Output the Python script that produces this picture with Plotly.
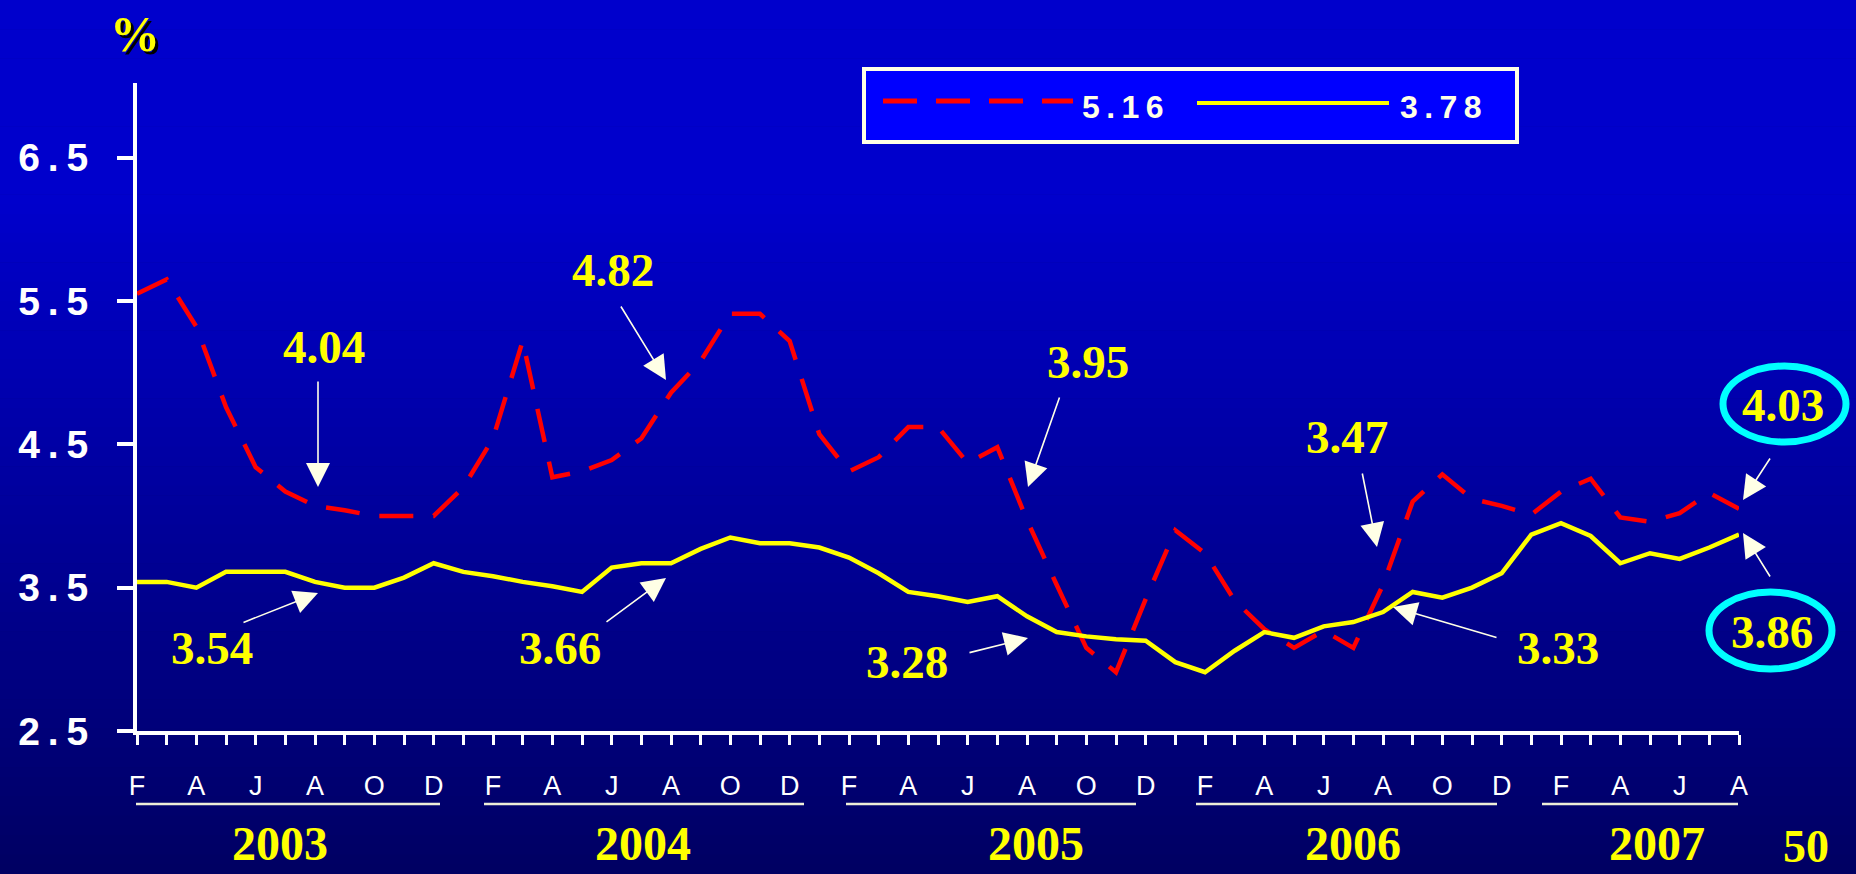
import pandas as pd
import plotly.graph_objects as go

# ---------------- data ----------------
months = pd.date_range("2003-02-01", "2007-08-01", freq="MS").strftime("%b %Y").tolist()

series_red_name = "5.16"
series_red = [5.55, 5.65, 5.32, 4.76, 4.34, 4.17, 4.07, 4.04, 4.00, 4.00,
              4.00, 4.20, 4.54, 5.22, 4.27, 4.31, 4.39, 4.54, 4.86, 5.08,
              5.41, 5.41, 5.22, 4.57, 4.31, 4.41, 4.62, 4.62, 4.37, 4.48,
              3.97, 3.52, 3.08, 2.91, 3.42, 3.90, 3.74, 3.41, 3.21, 3.08,
              3.20, 3.08, 3.52, 4.10, 4.29, 4.12, 4.07, 4.01, 4.17, 4.26,
              3.99, 3.96, 4.02, 4.16, 4.05]

series_yellow_name = "3.78"
series_yellow = [3.54, 3.54, 3.50, 3.61, 3.61, 3.61, 3.54, 3.50, 3.50, 3.57,
                 3.67, 3.61, 3.58, 3.54, 3.51, 3.47, 3.64, 3.67, 3.67, 3.77,
                 3.85, 3.81, 3.81, 3.78, 3.71, 3.60, 3.47, 3.44, 3.40, 3.44,
                 3.30, 3.19, 3.16, 3.14, 3.13, 2.98, 2.91, 3.06, 3.19, 3.15,
                 3.23, 3.26, 3.33, 3.47, 3.43, 3.50, 3.60, 3.87, 3.95, 3.86,
                 3.67, 3.74, 3.70, 3.78, 3.87]

month_tick_labels = [m[0] if i % 2 == 0 else "" for i, m in enumerate(months)]
y_tick_values = [2.5, 3.5, 4.5, 5.5, 6.5]
y_tick_labels = ["2\u2009.\u20095", "3\u2009.\u20095", "4\u2009.\u20095", "5\u2009.\u20095", "6\u2009.\u20095"]
years = ["2003", "2004", "2005", "2006", "2007"]
callout_texts = ["4.04", "3.54", "4.82", "3.66", "3.95", "3.28", "3.47", "3.33", "4.03", "3.86"]
page_number = "50"

# ---------------- layout helpers (pixel -> paper) ----------------
W, H = 1856, 874
def px(x):
    return x / W
def py(y):
    return 1 - y / H

SERIF = "Liberation Serif, Times New Roman, serif"
SANS = "Liberation Sans, Arial, sans-serif"
YELLOW = "#FFFF00"
CREAM = "#FFFFE6"

fig = go.Figure()
fig.add_trace(go.Scatter(x=months, y=series_red, name=series_red_name, mode="lines",
                         line=dict(color="#FF0000", width=4.5, dash="34px,20px"),
                         showlegend=False))
fig.add_trace(go.Scatter(x=months, y=series_yellow, name=series_yellow_name, mode="lines",
                         line=dict(color=YELLOW, width=4.5),
                         showlegend=False))

shapes = []
# background gradient bands
NB = 90
for k in range(NB):
    y0 = k * H / NB
    y1 = (k + 1) * H / NB + 0.6
    ym = (y0 + y1) / 2
    if ym <= 200:
        b = 204
    else:
        b = 204 - (204 - 98) * (ym - 200) / (H - 200)
    shapes.append(dict(type="rect", xref="paper", yref="paper", x0=-0.02, x1=1.02,
                       y0=py(y1), y1=py(y0), fillcolor=f"rgb(0,0,{int(round(b))})",
                       line=dict(width=0), layer="below"))

# year underline segments (pixel extents)
year_lines = [(136, 440), (484, 804), (846, 1136), (1196, 1497), (1542, 1738)]
for x0, x1 in year_lines:
    shapes.append(dict(type="line", xref="paper", yref="paper", x0=px(x0), x1=px(x1),
                       y0=py(804), y1=py(804), line=dict(color="#EEEED8", width=2.5)))

# legend box
shapes.append(dict(type="rect", xref="paper", yref="paper", x0=px(864), x1=px(1517),
                   y0=py(142), y1=py(69), fillcolor="#0000FF",
                   line=dict(color=CREAM, width=4)))
shapes.append(dict(type="line", xref="paper", yref="paper", x0=px(883), x1=px(1073),
                   y0=py(101), y1=py(101),
                   line=dict(color="#FF0000", width=5, dash="34px,19px")))
shapes.append(dict(type="line", xref="paper", yref="paper", x0=px(1197), x1=px(1389),
                   y0=py(103), y1=py(103), line=dict(color=YELLOW, width=4)))

# cyan ellipses
shapes.append(dict(type="circle", xref="paper", yref="paper", x0=px(1723), x1=px(1846),
                   y0=py(442), y1=py(366), line=dict(color="#00FFFF", width=7)))
shapes.append(dict(type="circle", xref="paper", yref="paper", x0=px(1709), x1=px(1832),
                   y0=py(669), y1=py(592), line=dict(color="#00FFFF", width=7)))

annotations = []
# callout labels: (text, center x, center y)
callout_pos = [(324, 347), (212, 648), (613, 270), (560, 648), (1088, 362),
               (907, 662), (1347, 437), (1558, 648), (1783, 405), (1772, 632)]
for t, (cx, cy) in zip(callout_texts, callout_pos):
    annotations.append(dict(text=f"<b>{t}</b>", x=px(cx), y=py(cy), xref="paper", yref="paper",
                            xanchor="center", yanchor="middle", showarrow=False,
                            font=dict(family=SERIF, size=47, color=YELLOW)))

# arrows: (tail x, tail y, tip x, tip y)
arrows = [(318, 380, 318, 487), (242, 623, 318, 593), (620, 305, 666, 380),
          (605, 623, 666, 578), (1060, 396, 1028, 487), (968, 653, 1028, 638),
          (1362, 472, 1377, 547), (1498, 638, 1393, 607), (1771, 457, 1743, 500),
          (1771, 578, 1743, 533)]
for tx, ty, hx, hy in arrows:
    annotations.append(dict(text="", x=px(hx), y=py(hy), xref="paper", yref="paper",
                            ax=tx - hx, ay=ty - hy, showarrow=True, arrowhead=2,
                            arrowsize=3.0, arrowwidth=1.6, arrowcolor=CREAM, standoff=0,
                            startstandoff=0))

# year labels
year_pos = [280, 643, 1036, 1353, 1657]
for t, cx in zip(years, year_pos):
    annotations.append(dict(text=f"<b>{t}</b>", x=px(cx), y=py(843), xref="paper", yref="paper",
                            xanchor="center", yanchor="middle", showarrow=False,
                            font=dict(family=SERIF, size=48, color=YELLOW)))

# percent sign
annotations.append(dict(text="<b>%</b>", x=px(135), y=py(34), xref="paper", yref="paper",
                        xanchor="center", yanchor="middle", showarrow=False,
                        font=dict(family=SERIF, size=50, color=YELLOW,
                                  shadow="3px 3px 0px #000000")))

# legend texts
legend_text = {series_red_name: 1123, series_yellow_name: 1441}
for name, cx in legend_text.items():
    spaced = "\u2009".join(list(name))
    annotations.append(dict(text=f"<b>{spaced}</b>", x=px(cx), y=py(107), xref="paper", yref="paper",
                            xanchor="center", yanchor="middle", showarrow=False,
                            font=dict(family=SANS, size=32, color=CREAM)))

# page number (bottom-right corner)
annotations.append(dict(text=f"<b>{page_number}</b>", x=px(1806), y=0, xref="paper", yref="paper",
                        xanchor="center", yanchor="bottom", showarrow=False,
                        font=dict(family=SERIF, size=46, color=YELLOW)))

fig.update_layout(
    width=W, height=H, autosize=False,
    margin=dict(l=0, r=0, t=0, b=0, pad=0, autoexpand=False),
    paper_bgcolor="rgb(0,0,110)", plot_bgcolor="rgba(0,0,0,0)",
    shapes=shapes, annotations=annotations, showlegend=False,
    xaxis=dict(domain=[px(137), px(1739)], type="category", range=[0, len(months) - 1],
               showgrid=False, zeroline=False, showline=True, linecolor="white", linewidth=4,
               ticks="outside", ticklen=10, tickwidth=3, tickcolor="white",
               tickvals=months, ticktext=month_tick_labels, tickangle=0, automargin=False,
               tickfont=dict(family=SANS, size=27, color="white"), ticklabelstandoff=18),
    yaxis=dict(domain=[py(731), py(83)], range=[2.5, 7.02], automargin=False,
               showgrid=False, zeroline=False, showline=True, linecolor="white", linewidth=4,
               ticks="outside", ticklen=16, tickwidth=4, tickcolor="white",
               tickvals=y_tick_values, ticktext=y_tick_labels,
               tickfont=dict(family=SANS, size=39, color="white", weight="bold"),
               ticklabelstandoff=21),
)

fig.write_html("out.html", config={"displayModeBar": False},
               post_script="document.body.style.margin='0';document.body.style.overflow='hidden';")
